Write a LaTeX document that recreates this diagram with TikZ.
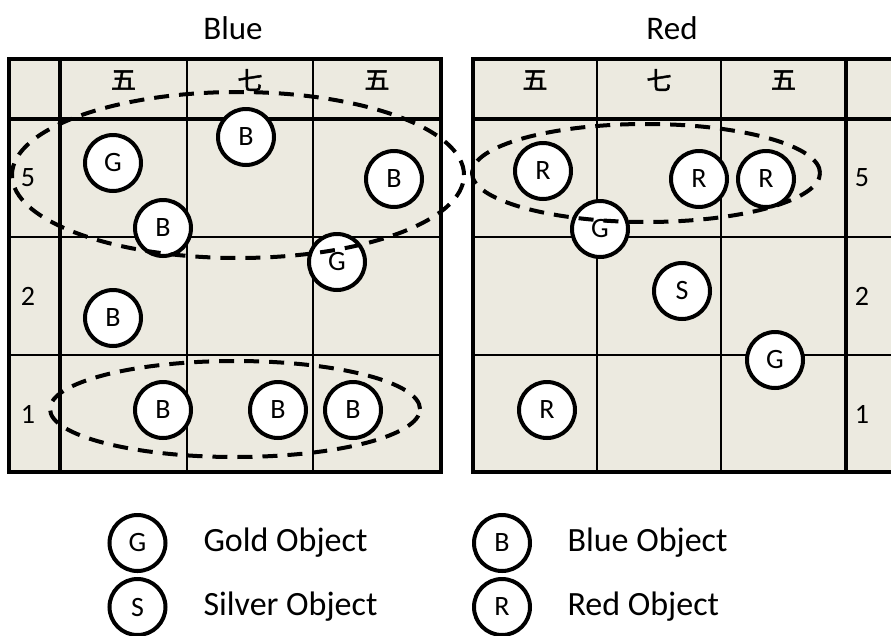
\documentclass[tikz,border=0pt]{standalone}
\usepackage{fontspec}
\setmainfont{Carlito}
\newfontfamily\cjk[FakeBold=2]{Noto Sans CJK JP}
\definecolor{cellbg}{RGB}{236,234,224}
\begin{document}
\begin{tikzpicture}[x=1pt,y=-1pt,
  thinline/.style={line width=1.5pt},
  thickline/.style={line width=4pt},
  obj/.style={circle,draw,line width=4pt,fill=white,inner sep=0pt,
    minimum size=56pt,font=\fontsize{28}{28}\selectfont},
  group/.style={line width=4pt,dash pattern=on 15pt off 10pt},
  title/.style={font=\fontsize{33}{33}\selectfont},
  legendtext/.style={anchor=west,font=\fontsize{34}{34}\selectfont},
  rowlabel/.style={font=\fontsize{28}{28}\selectfont},
  colhead/.style={font=\cjk\fontsize{25}{25}\selectfont}]
\useasboundingbox (0,0) rectangle (891,635);
\clip (0,0) rectangle (891,635);

% titles
\node[title] (tblue) at (233,28) {Blue};
\node[title] (tred) at (672,28) {Red};

% ---- left board ----
\fill[cellbg] (9,59) rectangle (441,472);
\foreach \x in {187,313} \draw[thinline] (\x,59) -- (\x,472);
\foreach \y in {237,355} \draw[thinline] (9,\y) -- (441,\y);
\draw[thickline] (60,59) -- (60,472);
\draw[thickline] (9,119) -- (441,119);
\draw[thickline] (9,59) rectangle (441,472);

% ---- right board ----
\fill[cellbg] (473,59) rectangle (897,472);
\foreach \x in {597,721} \draw[thinline] (\x,59) -- (\x,472);
\foreach \y in {237,355} \draw[thinline] (473,\y) -- (897,\y);
\draw[thickline] (846,59) -- (846,472);
\draw[thickline] (473,119) -- (897,119);
\draw[thickline] (473,59) rectangle (897,472);

% column headings
\node[colhead] (lh1) at (123.5,80) {五};
\node[colhead] (lh2) at (250,80) {七};
\node[colhead] (lh3) at (377,80) {五};
\node[colhead] (rh1) at (535,80) {五};
\node[colhead] (rh2) at (659,80) {七};
\node[colhead] (rh3) at (783.5,80) {五};

% row labels
\node[rowlabel] (lr1) at (28,178) {5};
\node[rowlabel] (lr2) at (28,296) {2};
\node[rowlabel] (lr3) at (28,414) {1};
\node[rowlabel] (rr1) at (862,178) {5};
\node[rowlabel] (rr2) at (862,296) {2};
\node[rowlabel] (rr3) at (862,414) {1};

% objects on the left board
\node[obj] (lg1) at (113,163) {G};
\node[obj] (lb1) at (246,137) {B};
\node[obj] (lb2) at (394,179) {B};
\node[obj] (lb3) at (163,228) {B};
\node[obj] (lg2) at (337,262) {G};
\node[obj] (lb4) at (113,318) {B};
\node[obj] (lb5) at (163,410) {B};
\node[obj] (lb6) at (278,410) {B};
\node[obj] (lb7) at (353,410) {B};

% objects on the right board
\node[obj] (rr1o) at (543,171) {R};
\node[obj] (rr2o) at (699,179) {R};
\node[obj] (rr3o) at (766,179) {R};
\node[obj] (rg1) at (600,229) {G};
\node[obj] (rs1) at (682,291) {S};
\node[obj] (rg2) at (775,360) {G};
\node[obj] (rr4o) at (547,410) {R};

% dashed groupings
\draw[group] (238,175) ellipse [x radius=226pt, y radius=83pt];
\draw[group] (235,409) ellipse [x radius=185pt, y radius=48pt];
\draw[group] (646,173) ellipse [x radius=174pt, y radius=49pt];

% legend
\node[obj] (kg) at (137.5,543) {G};
\node[obj] (ks) at (137.5,607) {S};
\node[obj] (kb) at (502,543) {B};
\node[obj] (kr) at (502,607) {R};
\node[legendtext] (tg) at (200,543) {Gold Object};
\node[legendtext] (ts) at (200,607) {Silver Object};
\node[legendtext] (tb) at (564,543) {Blue Object};
\node[legendtext] (tr) at (564,607) {Red Object};
\end{tikzpicture}
\end{document}
